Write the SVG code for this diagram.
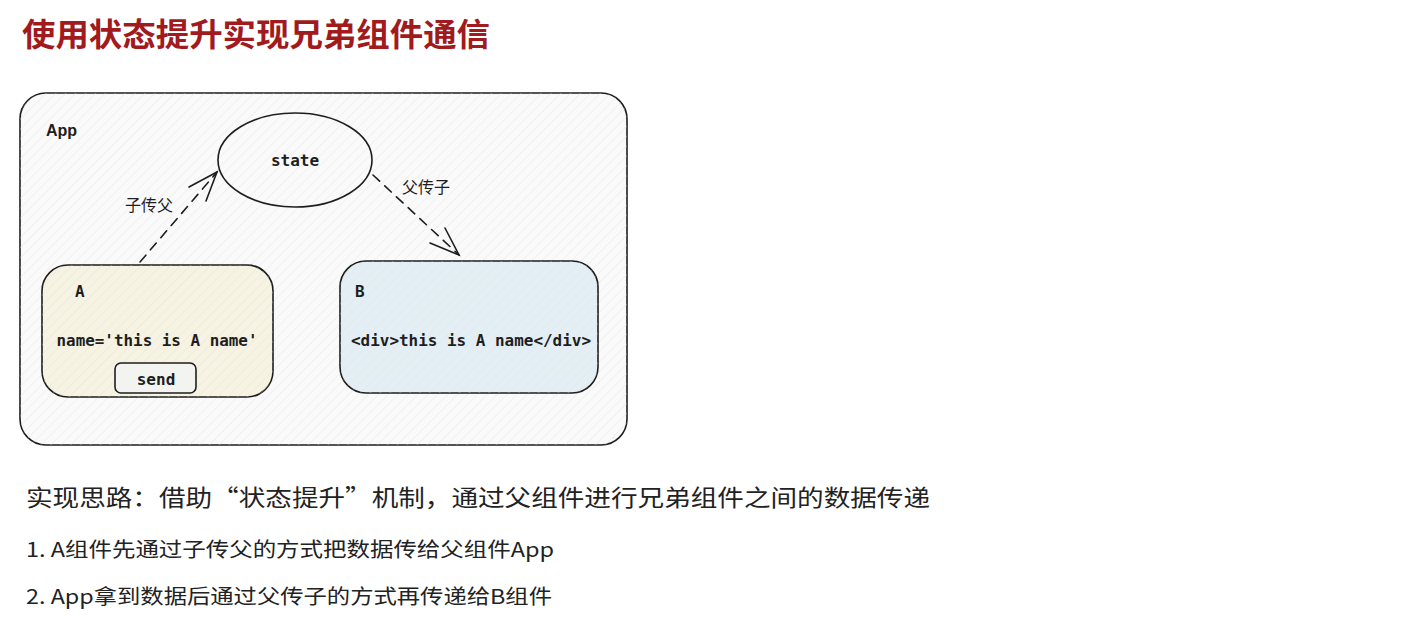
<svg xmlns="http://www.w3.org/2000/svg" width="1423" height="620" viewBox="0 0 1423 620">
<style>
.cjk{font-family:"Noto Sans CJK SC","Noto Sans",sans-serif;}
.mono{font-family:"DejaVu Sans Mono","Liberation Mono",monospace;font-weight:bold;font-size:16px;fill:#1e1e1e;}
.box{stroke:#1e1e1e;stroke-width:1.6;}
.conn{fill:none;stroke:#1e1e1e;stroke-width:1.6;stroke-dasharray:9 7;stroke-linecap:round;}
.head{fill:none;stroke:#1e1e1e;stroke-width:1.6;stroke-linecap:round;}
.lbl{font-size:16px;fill:#1e1e1e;}
.body{fill:#222;}
</style>
<defs>
<pattern id="hatch" width="7" height="7" patternUnits="userSpaceOnUse" patternTransform="rotate(45)">
<line x1="0" y1="0" x2="0" y2="7" stroke="#dedede" stroke-width="0.7"/>
</pattern>
</defs>
<rect width="1423" height="620" fill="#ffffff"/>
<text x="22" y="46" class="cjk" font-size="32" font-weight="bold" fill="#a01a1e" textLength="468" lengthAdjust="spacingAndGlyphs">使用状态提升实现兄弟组件通信</text>

<g id="app">
<rect x="20" y="93" width="607" height="352" rx="26" fill="#fafafa" class="box"/>
<rect x="20" y="93" width="607" height="352" rx="26" fill="url(#hatch)"/>
<text x="46" y="136" font-family="Liberation Sans,Arial,sans-serif" font-weight="bold" font-size="16" fill="#1e1e1e">App</text>
</g>

<g id="state">
<ellipse cx="295" cy="160" rx="77" ry="47" fill="none" class="box"/>
<text x="295" y="166" class="mono" text-anchor="middle">state</text>
</g>

<g id="nodeA">
<rect x="42" y="265" width="231" height="132" rx="26" fill="#f6f3e2" class="box"/>
<rect x="42" y="265" width="231" height="132" rx="26" fill="url(#hatch)"/>
<text x="75" y="297" class="mono">A</text>
<text x="157" y="346" class="mono" text-anchor="middle" textLength="201" lengthAdjust="spacingAndGlyphs">name='this is A name'</text>
</g>

<g id="send">
<rect x="115" y="363" width="81" height="30" rx="6" fill="#f3f3f0" class="box"/>
<text x="156" y="385" class="mono" text-anchor="middle">send</text>
</g>

<g id="nodeB">
<rect x="340" y="261" width="258" height="132" rx="26" fill="#e4eff5" class="box"/>
<rect x="340" y="261" width="258" height="132" rx="26" fill="url(#hatch)"/>
<text x="355" y="297" class="mono">B</text>
<text x="351" y="346" class="mono" textLength="240" lengthAdjust="spacingAndGlyphs">&lt;div&gt;this is A name&lt;/div&gt;</text>
</g>

<g id="connectors">
<path class="conn" d="M140 262 L217 172"/>
<path class="head" d="M189 187 L217 172 L206 201"/>
<text x="125" y="211" class="cjk lbl">子传父</text>
<path class="conn" d="M373 175 L459 255"/>
<path class="head" d="M430 243 L459 255 L445 228"/>
<text x="402" y="193" class="cjk lbl">父传子</text>
</g>

<text x="26" y="506" class="cjk body" font-size="23" textLength="904" lengthAdjust="spacingAndGlyphs">实现思路：借助“状态提升”机制，通过父组件进行兄弟组件之间的数据传递</text>
<text x="26" y="557" class="cjk body" font-size="20" textLength="528" lengthAdjust="spacingAndGlyphs">1. A组件先通过子传父的方式把数据传给父组件App</text>
<text x="26" y="604" class="cjk body" font-size="20" textLength="526" lengthAdjust="spacingAndGlyphs">2. App拿到数据后通过父传子的方式再传递给B组件</text>
</svg>
